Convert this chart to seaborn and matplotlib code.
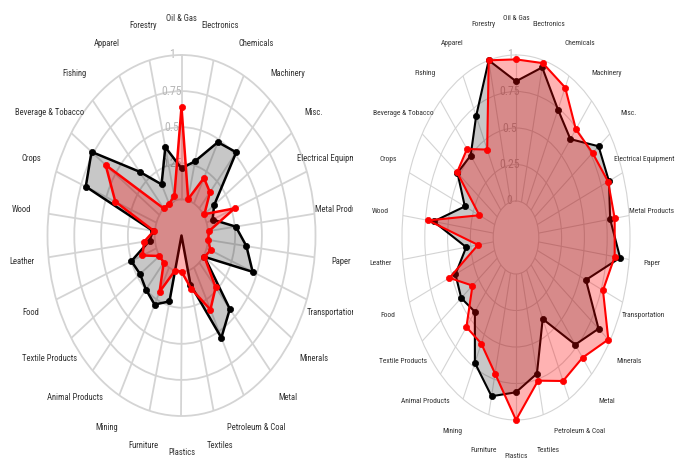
import numpy as np
import pandas as pd
import matplotlib
matplotlib.use("Agg")
import matplotlib.pyplot as plt
from matplotlib import font_manager as fm
from matplotlib.patches import Rectangle
import seaborn as sns

# Sectors, clockwise from the top
categories = ["Oil & Gas", "Electronics", "Chemicals", "Machinery", "Misc.",
              "Electrical Equipment", "Metal Products", "Paper", "Transportation",
              "Minerals", "Metal", "Petroleum & Coal", "Textiles", "Plastics",
              "Furniture", "Mining", "Animal Products", "Textile Products", "Food",
              "Leather", "Wood", "Crops", "Beverage & Tobacco", "Fishing",
              "Apparel", "Forestry"]

# Left radar (NaN = missing, drawn at the centre)
left_black = [0.215, 0.28, 0.48, 0.52, 0.12, 0.06, 0.26, 0.36, 0.46, 0.01,
              0.43, 0.55, 0.10, np.nan, 0.22, 0.29, 0.25, 0.22, 0.25, 0.05,
              0.02, 0.705, 0.77, 0.34, 0.15, 0.38]
left_red = [0.64, 0.01, 0.20, 0.15, 0.01, 0.28, 0.01, 0.00, 0.04, 0.01,
            0.23, 0.33, 0.13, 0.00, 0.00, 0.19, 0.00, 0.00, 0.14, 0.10,
            0.01, 0.41, 0.61, 0.00, 0.00, 0.03]

# Right radar
right_black = [0.82, 0.95, 0.74, 0.65, 0.85, 0.84, 0.79, 0.90, 0.57, 0.85,
               0.73, 0.38, 0.71, 0.81, 0.87, 0.72, 0.43, 0.48, 0.46, 0.30,
               0.66, 0.35, 0.53, 0.50, 0.69, 1.00]
right_red = [0.97, 0.98, 0.91, 0.74, 0.77, 0.83, 0.84, 0.84, 0.77, 0.98,
             0.85, 0.86, 0.76, 1.00, 0.71, 0.57, 0.57, 0.33, 0.53, 0.17,
             0.72, 0.18, 0.535, 0.56, 0.43, 1.00]

ring_levels = [0, 0.25, 0.5, 0.75, 1]
ring_labels = ["0", "0.25", "0.5", "0.75", "1"]

sns.set_theme(style="white")


def narrow_font():
    """Return FontProperties for the narrowest sans face available."""
    for fam in ["Liberation Sans Narrow", "Roboto Condensed",
                "DejaVu Sans Condensed", "Open Sans Condensed"]:
        try:
            fm.findfont(fm.FontProperties(family=fam), fallback_to_default=False)
            return fm.FontProperties(family=fam), True
        except ValueError:
            pass
    for fam in ["DejaVu Sans", "Roboto", "Liberation Sans"]:
        prop = fm.FontProperties(family=fam, stretch="condensed")
        path = fm.findfont(prop)
        if "ondensed" in path or "arrow" in path:
            return prop, True
    return fm.FontProperties(family="Liberation Sans"), False


LABEL_FONT, IS_NARROW = narrow_font()
plt.rcParams["font.family"] = ["Liberation Sans", "DejaVu Sans"]

ORIGIN = -0.25          # value 0 sits one ring out from the centre
GRID = "#d4d4d4"
n = len(categories)
theta = np.arange(n) * 2 * np.pi / n

fig = plt.figure(figsize=(6.79, 4.62), dpi=100)
fig.patch.set_facecolor("white")


def draw_series(ax, values, line_color, fill_color, fill_alpha, lw, size, z):
    vals = np.array(values, dtype=float)
    r = np.where(np.isnan(vals), ORIGIN, vals)
    df = pd.DataFrame({"theta": np.append(theta, theta[0]),
                       "r": np.append(r, r[0])})
    poly = ax.fill(df["theta"], df["r"], color=fill_color, alpha=fill_alpha,
                   lw=0, zorder=z)
    for p in poly:
        p.set_clip_on(False)
    n_lines = len(ax.lines)
    sns.lineplot(data=df, x="theta", y="r", sort=False, estimator=None,
                 color=line_color, lw=lw, ax=ax, zorder=z + 0.1)
    for ln in ax.lines[n_lines:]:
        ln.set_clip_on(False)
    pts = pd.DataFrame({"theta": theta, "r": vals}).dropna()
    n_coll = len(ax.collections)
    sns.scatterplot(data=pts, x="theta", y="r", color=line_color, s=size,
                    edgecolor=line_color, linewidth=0.5, ax=ax, zorder=z + 0.2,
                    legend=False)
    for c in ax.collections[n_coll:]:
        c.set_clip_on(False)


def radar(rect, black, red, grid_lw, lw, size, label_dx, label_size, clip=None):
    ax = fig.add_axes(rect, projection="polar")
    ax.set_theta_zero_location("N")
    ax.set_theta_direction(-1)
    ax.set_facecolor("white")

    draw_series(ax, black, "black", "black", 0.22, lw, size, 3)
    draw_series(ax, red, "red", "red", 0.30, lw, size, 4)

    ax.set_xlim(0, 2 * np.pi)
    ax.set_ylim(0, 1)
    ax.set_rorigin(ORIGIN)
    ax.set_aspect("auto")
    ax.set_xlabel("")
    ax.set_ylabel("")
    ax.set_xticks(theta)
    ax.set_xticklabels([])
    ax.set_yticks([0.25, 0.5, 0.75])
    ax.set_yticklabels([])
    ax.tick_params(length=0)
    ax.grid(True, color=GRID, lw=grid_lw)
    for sp in ax.spines.values():
        sp.set_color(GRID)
        sp.set_linewidth(grid_lw)

    # ring values along the upper spoke
    for lev, lab in zip(ring_levels, ring_labels):
        rho = (lev - ORIGIN) / (1 - ORIGIN)
        ax.text(0.5 - label_dx, 0.5 + 0.5 * rho, lab, transform=ax.transAxes,
                ha="center", va="center", fontproperties=LABEL_FONT,
                fontsize=8.5, color="#b8b8b8", zorder=2)

    # sector names around the outside
    for t, name in zip(theta, categories):
        txt = ax.text(t, 1.25, name, ha="center", va="center",
                      fontproperties=LABEL_FONT, fontsize=label_size,
                      color="#333333", clip_on=False, zorder=6)
        if clip is not None:
            txt.set_clip_path(clip)
            txt.set_clip_on(True)
    return ax


left_size = 6.2 if IS_NARROW else 5.4
right_size = 5.4 if IS_NARROW else 4.8

left_clip = Rectangle((0, 0), 353 / 679, 1, transform=fig.transFigure)
radar([47.5 / 679, 46 / 462, 268 / 679, 361 / 462], left_black, left_red,
      grid_lw=1.3, lw=1.8, size=20, label_dx=0.035, label_size=left_size,
      clip=left_clip)
radar([402 / 679, 42 / 462, 228 / 679, 365 / 462], right_black, right_red,
      grid_lw=0.8, lw=1.5, size=20, label_dx=0.028, label_size=right_size)

fig.savefig("out.png", dpi=100, facecolor="white")
